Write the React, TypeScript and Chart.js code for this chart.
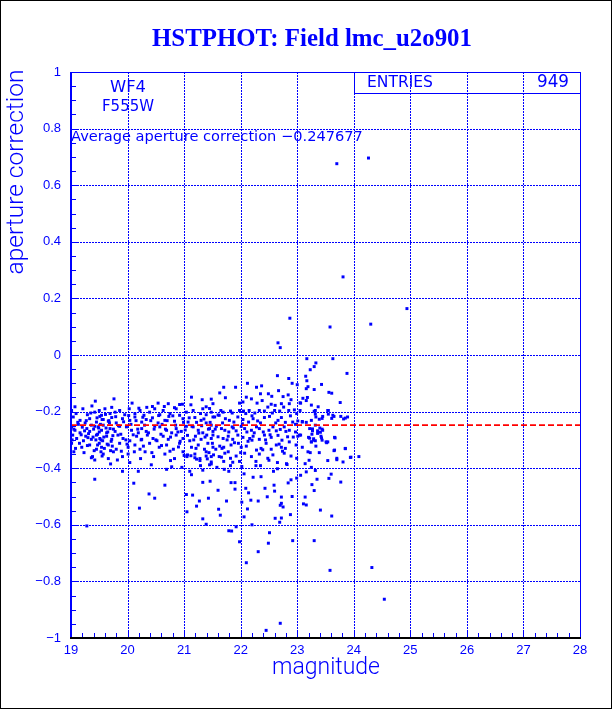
import { useEffect, useRef } from "react";
import { Chart, registerables } from "chart.js";

Chart.register(...registerables);

const BLUE = "#0000ff";
const RED = "#ff0000";

const TITLE = "HSTPHOT: Field lmc_u2o901";
const X_TITLE = "magnitude";
const Y_TITLE = "aperture correction";
const CHIP = "WF4";
const FILTER = "F555W";
const AVG_CORR = -0.247677;
const ENTRIES = 949;
const X_MIN = 19;
const X_MAX = 28;
const Y_MIN = -1;
const Y_MAX = 1;

// [magnitude, aperture correction]
const upperTail: [number, number][] = [
  [23.70, 0.676], [24.26, 0.696], [23.81, 0.276], [24.94, 0.164], [22.87, 0.130], [23.58, 0.099],
  [24.30, 0.109], [22.66, 0.043], [22.70, 0.026], [23.17, -0.013], [23.63, -0.013], [23.33, -0.028],
  [23.30, -0.041], [23.23, -0.052], [23.88, -0.065], [22.65, -0.073], [22.85, -0.083], [23.15, -0.075],
  [23.17, -0.091], [23.43, -0.104], [23.19, -0.112], [23.16, -0.119], [23.30, -0.122], [23.56, -0.132],
  [23.61, -0.135], [23.10, -0.153], [23.16, -0.161], [23.18, -0.150], [23.06, -0.170], [23.76, -0.168],
  [21.70, -0.114], [21.91, -0.114], [22.12, -0.100], [22.28, -0.114], [22.37, -0.109], [22.49, -0.137],
  [22.55, -0.146], [22.35, -0.137], [22.67, -0.126], [22.84, -0.141], [22.75, -0.147], [22.91, -0.100],
  [23.00, -0.105], [21.48, -0.156], [21.73, -0.151], [21.63, -0.134], [22.10, -0.149], [22.19, -0.155],
  [22.29, -0.170], [22.38, -0.161], [22.54, -0.174], [22.61, -0.178], [22.72, -0.172], [22.89, -0.158],
  [22.86, -0.172], [23.05, -0.169], [23.25, -0.177], [23.37, -0.183], [22.04, -0.166], [21.98, -0.170],
  [21.51, -0.172],
  [19.76, -0.155], [19.43, -0.163], [19.07, -0.183], [19.37, -0.180], [19.72, -0.185], [20.08, -0.170],
  [20.54, -0.170], [20.72, -0.172], [20.92, -0.175], [20.97, -0.174], [21.13, -0.149], [21.32, -0.158],
  [20.44, -0.182], [20.34, -0.185], [20.20, -0.188], [20.65, -0.182], [20.83, -0.186], [21.12, -0.176],
  [21.39, -0.183], [21.45, -0.189],
];

const coreLeft: [number, number][] = [
  [19.01, -0.196], [19.09, -0.207], [19.21, -0.190], [19.29, -0.211], [19.42, -0.202], [19.50, -0.196],
  [19.54, -0.213], [19.60, -0.190], [19.69, -0.207], [19.78, -0.202], [19.86, -0.196], [19.95, -0.211],
  [20.03, -0.190], [20.13, -0.207], [20.22, -0.196], [20.29, -0.213], [20.39, -0.202], [20.48, -0.190],
  [20.57, -0.211], [20.63, -0.196], [20.75, -0.207], [20.86, -0.190], [20.92, -0.213], [21.04, -0.202],
  [21.16, -0.196], [21.29, -0.207], [21.33, -0.190], [21.39, -0.211], [21.48, -0.202],
  [19.04, -0.219], [19.16, -0.231], [19.25, -0.240], [19.33, -0.225], [19.45, -0.237], [19.51, -0.217],
  [19.57, -0.228], [19.66, -0.234], [19.72, -0.221], [19.80, -0.240], [19.91, -0.225], [20.04, -0.231],
  [20.13, -0.219], [20.25, -0.237], [20.33, -0.228], [20.44, -0.222], [20.54, -0.240], [20.66, -0.231],
  [20.73, -0.217], [20.83, -0.234], [20.98, -0.225], [21.07, -0.237], [21.19, -0.221], [21.30, -0.231],
  [21.39, -0.240], [21.51, -0.219],
  [19.01, -0.254], [19.07, -0.266], [19.16, -0.275], [19.28, -0.260], [19.33, -0.270], [19.42, -0.252],
  [19.48, -0.254], [19.54, -0.266], [19.63, -0.275], [19.69, -0.260], [19.78, -0.270], [19.86, -0.252],
  [19.98, -0.254], [20.07, -0.266], [20.19, -0.275], [20.25, -0.260], [20.33, -0.270], [20.48, -0.252],
  [20.57, -0.254], [20.69, -0.266], [20.78, -0.275], [20.86, -0.260], [20.95, -0.270], [21.04, -0.252],
  [21.16, -0.254], [21.25, -0.266], [21.33, -0.275], [21.45, -0.260], [21.51, -0.270],
  [19.03, -0.283], [19.10, -0.295], [19.22, -0.303], [19.26, -0.287], [19.36, -0.298], [19.45, -0.283],
  [19.51, -0.295], [19.56, -0.303], [19.63, -0.287], [19.72, -0.298], [19.83, -0.283], [19.92, -0.295],
  [20.04, -0.303], [20.16, -0.287], [20.25, -0.298], [20.35, -0.283], [20.45, -0.295], [20.52, -0.303],
  [20.63, -0.287], [20.72, -0.298], [20.86, -0.283], [20.98, -0.295], [21.10, -0.303], [21.20, -0.287],
  [21.30, -0.298], [21.40, -0.283], [21.48, -0.295],
  [19.01, -0.312], [19.19, -0.326], [19.33, -0.318], [19.45, -0.333], [19.50, -0.312], [19.54, -0.326],
  [19.66, -0.318], [19.80, -0.333], [19.86, -0.312], [20.01, -0.326], [20.13, -0.318], [20.22, -0.333],
  [20.39, -0.312], [20.56, -0.326], [20.69, -0.318], [20.81, -0.333], [20.92, -0.312], [21.13, -0.326],
  [21.25, -0.318], [21.36, -0.333], [21.42, -0.312], [21.51, -0.326],
  [19.05, -0.342], [19.38, -0.359], [19.57, -0.350], [19.66, -0.366], [19.75, -0.342], [19.91, -0.359],
  [20.01, -0.350], [20.23, -0.366], [20.31, -0.342], [20.46, -0.359], [20.66, -0.350], [20.83, -0.366],
  [20.98, -0.342], [21.05, -0.359], [21.19, -0.350], [21.28, -0.366], [21.39, -0.342], [21.48, -0.359],
  [19.40, -0.262], [19.47, -0.280], [19.52, -0.245], [19.58, -0.290], [19.62, -0.258], [19.68, -0.240],
  [19.74, -0.285], [19.44, -0.300], [19.50, -0.272], [19.36, -0.248], [19.30, -0.292], [19.24, -0.268],
  [19.12, -0.238], [19.18, -0.282], [19.55, -0.228], [19.64, -0.315], [19.70, -0.338], [19.53, -0.342],
  [19.05, -0.262], [19.13, -0.245], [19.20, -0.255], [19.27, -0.232], [19.31, -0.278], [19.35, -0.205],
  [19.39, -0.290], [19.46, -0.222], [19.49, -0.258], [19.53, -0.300], [19.57, -0.248], [19.61, -0.210],
  [19.65, -0.272], [19.67, -0.232], [19.71, -0.305], [19.75, -0.262], [19.79, -0.218], [19.84, -0.250],
  [19.88, -0.280], [19.93, -0.236], [19.97, -0.300], [20.02, -0.214], [20.06, -0.245], [20.10, -0.282],
  [20.15, -0.232], [20.18, -0.262], [20.24, -0.300], [20.27, -0.220], [20.30, -0.248], [20.37, -0.275],
  [20.41, -0.232], [20.47, -0.262], [20.50, -0.300], [20.55, -0.214], [20.59, -0.280], [20.61, -0.245],
  [20.67, -0.262], [20.70, -0.232], [20.76, -0.290], [20.80, -0.215], [20.85, -0.248], [20.89, -0.272],
  [20.93, -0.305], [20.99, -0.238], [21.02, -0.265], [21.06, -0.284], [21.09, -0.222], [21.14, -0.252],
  [21.17, -0.300], [21.22, -0.238], [21.26, -0.276], [21.31, -0.250], [21.35, -0.226], [21.37, -0.290],
  [21.43, -0.262], [21.46, -0.238],
  [19.02, -0.300], [19.08, -0.330], [19.15, -0.312], [19.23, -0.345], [19.29, -0.320], [19.41, -0.338],
  [19.47, -0.318], [19.59, -0.330], [19.73, -0.322], [19.89, -0.340], [19.99, -0.315], [20.12, -0.342],
  [20.28, -0.322], [20.43, -0.345], [20.60, -0.320], [20.75, -0.340], [20.90, -0.325], [21.00, -0.355],
  [21.21, -0.330], [21.44, -0.345],
];

const coreMid: [number, number][] = [
  [21.65, -0.196], [21.69, -0.202], [21.82, -0.198], [21.98, -0.196], [22.05, -0.198], [22.09, -0.207],
  [22.15, -0.196], [22.25, -0.205], [22.33, -0.196], [22.42, -0.198], [22.48, -0.184], [22.60, -0.196],
  [22.69, -0.198], [22.76, -0.184], [22.85, -0.196], [22.95, -0.194], [22.99, -0.207], [23.05, -0.196],
  [23.32, -0.196], [23.45, -0.217], [23.54, -0.196], [23.63, -0.213], [23.77, -0.217], [23.89, -0.219],
  [21.54, -0.219], [21.62, -0.213], [21.73, -0.225], [21.80, -0.231], [21.88, -0.237], [21.95, -0.219],
  [22.04, -0.228], [22.14, -0.237], [22.22, -0.225], [22.30, -0.233], [22.42, -0.221], [22.51, -0.217],
  [22.66, -0.231], [22.72, -0.221], [22.79, -0.238], [22.92, -0.237], [23.01, -0.233], [23.09, -0.237],
  [23.25, -0.231], [23.33, -0.219],
  [21.48, -0.248], [21.57, -0.252], [21.66, -0.260], [21.72, -0.266], [21.79, -0.272], [21.85, -0.254],
  [21.92, -0.268], [22.01, -0.252], [22.07, -0.260], [22.11, -0.272], [22.19, -0.266], [22.28, -0.254],
  [22.33, -0.260], [22.40, -0.272], [22.50, -0.266], [22.57, -0.254], [22.63, -0.268], [22.70, -0.263],
  [22.77, -0.254], [22.86, -0.266], [22.97, -0.272], [23.04, -0.283], [23.22, -0.260], [23.27, -0.268],
  [23.36, -0.277], [23.45, -0.266], [21.51, -0.283], [21.60, -0.289], [21.69, -0.295], [21.78, -0.287],
  [21.86, -0.298], [21.95, -0.283], [22.04, -0.291], [22.16, -0.295], [22.22, -0.287], [22.33, -0.298],
  [22.42, -0.283], [22.54, -0.291], [22.66, -0.284], [22.73, -0.301], [22.83, -0.289], [23.01, -0.287],
  [23.20, -0.291], [23.29, -0.301], [23.42, -0.287], [23.54, -0.307], [23.66, -0.291],
  [21.50, -0.312], [21.56, -0.333], [21.63, -0.322], [21.70, -0.326], [21.78, -0.342], [21.83, -0.318],
  [21.89, -0.310], [22.01, -0.326], [22.10, -0.322], [22.20, -0.301], [22.28, -0.336], [22.36, -0.330],
  [22.45, -0.312], [22.54, -0.333], [22.63, -0.318], [22.72, -0.326], [22.79, -0.330], [22.86, -0.307],
  [22.98, -0.318], [23.09, -0.326], [23.19, -0.342], [23.25, -0.307], [23.33, -0.322], [23.44, -0.301],
  [23.52, -0.310], [23.66, -0.336], [23.85, -0.330], [21.52, -0.353], [21.62, -0.359], [21.72, -0.347],
  [21.82, -0.365], [21.92, -0.357], [22.07, -0.347], [22.19, -0.359], [22.33, -0.350], [22.48, -0.365],
  [22.57, -0.353], [22.77, -0.347], [22.89, -0.357], [22.99, -0.365], [23.70, -0.365], [23.95, -0.361],
  [21.55, -0.262], [21.68, -0.240], [21.76, -0.300], [21.87, -0.258], [21.96, -0.312], [22.03, -0.243],
  [22.13, -0.305], [22.24, -0.275], [22.35, -0.240], [22.44, -0.300], [22.52, -0.282], [22.62, -0.240],
  [22.68, -0.315], [22.80, -0.270], [22.93, -0.290], [22.97, -0.245], [21.60, -0.212], [21.85, -0.205],
  [22.20, -0.215], [22.56, -0.205], [22.88, -0.215], [21.67, -0.330], [22.00, -0.345], [22.39, -0.335],
  [22.74, -0.340],
];

const coreRight: [number, number][] = [
  [23.85, -0.331], [23.81, -0.378], [23.70, -0.370], [23.94, -0.362], [23.77, -0.449], [23.30, -0.479],
  [23.26, -0.458], [23.35, -0.439], [23.56, -0.436], [23.60, -0.421], [23.16, -0.413], [23.06, -0.425],
  [23.25, -0.397], [23.32, -0.408], [23.14, -0.384], [23.21, -0.372], [23.54, -0.373], [23.65, -0.338],
  [23.39, -0.345], [23.23, -0.345], [23.32, -0.303], [23.25, -0.307], [23.51, -0.307], [23.22, -0.294],
  [23.29, -0.296], [23.43, -0.293], [23.67, -0.293], [23.26, -0.280], [23.36, -0.268], [23.41, -0.273],
  [23.27, -0.261], [23.44, -0.262], [23.06, -0.283], [23.32, -0.248], [23.40, -0.258], [23.09, -0.235],
  [23.16, -0.238], [23.39, -0.227], [23.44, -0.224], [23.61, -0.224], [23.65, -0.217], [23.82, -0.226],
  [23.85, -0.223], [23.32, -0.209], [23.55, -0.209], [23.30, -0.199], [23.55, -0.196],
];

const lowerTail: [number, number][] = [
  [24.09, -0.359], [24.32, -0.751], [24.54, -0.863], [23.61, -0.569], [23.58, -0.761], [23.30, -0.656],
  [23.41, -0.548], [23.16, -0.530], [23.14, -0.502],
  [19.28, -0.604], [19.42, -0.439], [20.11, -0.453], [20.21, -0.541], [20.38, -0.491], [20.48, -0.506],
  [20.66, -0.460], [20.19, -0.411], [19.91, -0.411], [20.69, -0.404], [20.76, -0.373], [20.04, -0.380],
  [19.70, -0.385], [19.82, -0.371], [19.36, -0.363], [19.55, -0.357], [19.42, -0.371], [20.42, -0.388],
  [20.78, -0.395], [21.04, -0.493], [21.15, -0.495], [21.05, -0.554], [21.22, -0.534], [21.27, -0.516],
  [21.43, -0.506], [21.33, -0.579], [21.39, -0.598], [21.10, -0.411], [21.13, -0.423], [21.33, -0.450],
  [21.46, -0.446], [21.33, -0.407], [21.45, -0.388], [21.48, -0.385], [21.41, -0.367], [21.29, -0.391],
  [21.28, -0.373], [21.22, -0.368], [21.19, -0.363], [21.12, -0.356], [21.06, -0.353], [21.39, -0.357],
  [20.96, -0.397],
  [21.60, -0.478], [21.75, -0.516], [21.61, -0.545], [21.64, -0.566], [21.83, -0.451], [21.90, -0.451],
  [21.90, -0.474], [22.09, -0.471], [22.02, -0.520], [22.14, -0.487], [22.18, -0.513], [22.12, -0.544],
  [22.06, -0.572], [22.31, -0.516], [22.43, -0.471], [22.47, -0.501], [22.60, -0.481], [22.59, -0.460],
  [22.72, -0.502], [22.72, -0.524], [22.70, -0.531], [22.75, -0.537], [22.72, -0.576], [22.69, -0.591],
  [22.61, -0.577], [22.88, -0.564], [22.91, -0.500], [23.11, -0.526], [22.84, -0.452], [22.89, -0.441],
  [22.99, -0.435], [22.20, -0.600], [21.92, -0.607], [21.79, -0.621], [21.84, -0.622], [22.51, -0.628],
  [21.98, -0.660], [22.49, -0.665], [22.92, -0.656], [22.31, -0.695], [21.71, -0.404], [21.79, -0.411],
  [22.06, -0.420], [22.22, -0.432], [22.36, -0.430], [22.58, -0.411], [22.65, -0.402], [22.82, -0.387],
  [21.48, -0.378], [21.58, -0.397], [21.66, -0.361], [21.70, -0.376], [21.82, -0.391], [21.86, -0.379],
  [21.98, -0.376], [22.02, -0.394], [22.27, -0.376], [22.27, -0.391], [22.35, -0.391], [22.50, -0.372],
  [22.65, -0.380], [22.81, -0.384],
  [22.70, -0.948], [22.45, -0.973], [22.10, -0.734],
];

const allPoints = [...upperTail, ...coreLeft, ...coreMid, ...coreRight, ...lowerTail];

function fitText(
  ctx: CanvasRenderingContext2D,
  text: string,
  x: number,
  y: number,
  width: number,
  family: string,
  weight = "normal",
  align: CanvasTextAlign = "center",
  baseline: CanvasTextBaseline = "middle"
) {
  ctx.font = `${weight} 100px "${family}"`;
  const w = ctx.measureText(text).width;
  const size = (100 * width) / w;
  ctx.font = `${weight} ${size.toFixed(2)}px "${family}"`;
  ctx.textAlign = align;
  ctx.textBaseline = baseline;
  ctx.fillText(text, x, y);
}

const gridPlugin = {
  id: "dottedGrid",
  beforeDatasetsDraw(chart: any) {
    const { ctx, chartArea: a, scales } = chart;
    const xs = scales.x;
    const ys = scales.y;
    ctx.save();
    ctx.strokeStyle = BLUE;
    ctx.lineWidth = 1;
    ctx.setLineDash([2, 1]);
    ctx.beginPath();
    xs.ticks.forEach((t: any) => {
      const px = Math.round(xs.getPixelForValue(t.value)) + 0.5;
      ctx.moveTo(px, a.top);
      ctx.lineTo(px, a.bottom);
    });
    ys.ticks.forEach((t: any) => {
      const py = Math.round(ys.getPixelForValue(t.value)) + 0.5;
      ctx.moveTo(a.left, py);
      ctx.lineTo(a.right, py);
    });
    ctx.stroke();
    ctx.restore();
  },
};

const decor = {
  id: "decor",
  afterDraw(chart: any) {
    const { ctx, chartArea: a, scales } = chart;
    const xs = scales.x;
    const ys = scales.y;
    ctx.save();
    ctx.strokeStyle = BLUE;
    ctx.lineWidth = 1;
    ctx.beginPath();
    for (let i = 0; i <= 45; i++) {
      const v = X_MIN + i * 0.2;
      const px = Math.round(xs.getPixelForValue(v)) + 0.5;
      const len = i % 5 === 0 ? 8 : 5;
      ctx.moveTo(px, a.bottom);
      ctx.lineTo(px, a.bottom - len);
    }
    for (let i = 0; i <= 40; i++) {
      const v = Y_MIN + i * 0.05;
      const py = Math.round(ys.getPixelForValue(v)) + 0.5;
      const len = i % 4 === 0 ? 8 : 5;
      ctx.moveTo(a.left, py);
      ctx.lineTo(a.left + len, py);
    }
    ctx.stroke();
    ctx.beginPath();
    ctx.moveTo(a.left, a.top + 0.5);
    ctx.lineTo(a.right + 0.5, a.top + 0.5);
    ctx.lineTo(a.right + 0.5, a.bottom);
    ctx.stroke();
    ctx.lineWidth = 2;
    ctx.beginPath();
    ctx.moveTo(a.left, a.top);
    ctx.lineTo(a.left, a.bottom + 1);
    ctx.stroke();
    ctx.strokeStyle = "#000000";
    ctx.beginPath();
    ctx.moveTo(a.left - 1, a.bottom);
    ctx.lineTo(a.right + 1, a.bottom);
    ctx.stroke();

    ctx.strokeStyle = BLUE;
    ctx.lineWidth = 1;
    ctx.strokeRect(354.5, a.top + 0.5, a.right - 354, 21);

    ctx.fillStyle = BLUE;
    fitText(ctx, TITLE, 312, 46, 320, "Liberation Serif", "bold", "center", "alphabetic");
    fitText(ctx, "ENTRIES", 367, 83, 66, "DejaVu Sans", "normal", "left");
    fitText(ctx, String(ENTRIES), 569, 83, 32, "DejaVu Sans", "normal", "right");
    fitText(ctx, CHIP, 128, 88, 36, "DejaVu Sans");
    fitText(ctx, FILTER, 128, 107, 52, "DejaVu Sans");
    fitText(
      ctx,
      "Average aperture correction \u2212" + Math.abs(AVG_CORR).toString(),
      71,
      137,
      292,
      "DejaVu Sans",
      "normal",
      "left"
    );
    fitText(ctx, X_TITLE, 326, 668, 108, "Roboto", "300");
    ctx.save();
    ctx.translate(17, 172);
    ctx.rotate(-Math.PI / 2);
    fitText(ctx, Y_TITLE, 0, 0, 205, "Roboto", "300");
    ctx.restore();

    ctx.strokeStyle = "#000000";
    ctx.lineWidth = 1;
    ctx.strokeRect(0.5, 0.5, chart.width - 1, chart.height - 1);
    ctx.restore();
  },
};

export default function App() {
  const ref = useRef<HTMLCanvasElement | null>(null);
  useEffect(() => {
    document.body.style.margin = "0";
    const canvas = ref.current!;
    const chart = new Chart(canvas, {
      type: "scatter",
      data: {
        datasets: [
          {
            type: "line",
            data: [
              { x: X_MIN, y: AVG_CORR },
              { x: X_MAX, y: AVG_CORR },
            ],
            borderColor: RED,
            borderWidth: 1.6,
            borderDash: [6, 3],
            pointRadius: 0,
            fill: false,
            order: 0,
          } as any,
          {
            type: "scatter",
            data: allPoints.map(([m, c]) => ({ x: m, y: c })),
            pointStyle: "rect",
            pointRadius: 2.1,
            borderWidth: 0,
            backgroundColor: BLUE,
            borderColor: BLUE,
            order: 1,
          } as any,
        ],
      },
      options: {
        responsive: false,
        animation: false,
        events: [],
        layout: { padding: { left: 0, top: 72, right: 32, bottom: 0 } },
        plugins: { legend: { display: false }, tooltip: { enabled: false }, title: { display: false } },
        scales: {
          x: {
            type: "linear",
            min: X_MIN,
            max: X_MAX,
            afterFit: (s: any) => {
              s.height = 71;
            },
            ticks: {
              stepSize: 1,
              autoSkip: false,
              maxRotation: 0,
              padding: 5,
              color: BLUE,
              font: { family: "Liberation Sans", size: 13 },
              callback: (v: any) => String(Math.round(Number(v))),
            },
            grid: { display: false, drawTicks: false },
            border: { display: false },
          },
          y: {
            type: "linear",
            min: Y_MIN,
            max: Y_MAX,
            afterFit: (s: any) => {
              s.width = 71;
            },
            ticks: {
              stepSize: 0.2,
              autoSkip: false,
              padding: 10,
              color: BLUE,
              font: { family: "Liberation Sans", size: 13 },
              callback: (v: any) => {
                const r = Math.round(Number(v) * 10) / 10;
                return r < 0 ? "\u2212" + String(Math.abs(r)) : String(r);
              },
            },
            grid: { display: false, drawTicks: false },
            border: { display: false },
          },
        },
      } as any,
      plugins: [gridPlugin, decor],
    });
    return () => chart.destroy();
  }, []);
  return (
    <div style={{ width: 612, height: 709, background: "#ffffff" }}>
      <canvas ref={ref} width={612} height={709} style={{ display: "block", width: 612, height: 709 }} />
    </div>
  );
}
